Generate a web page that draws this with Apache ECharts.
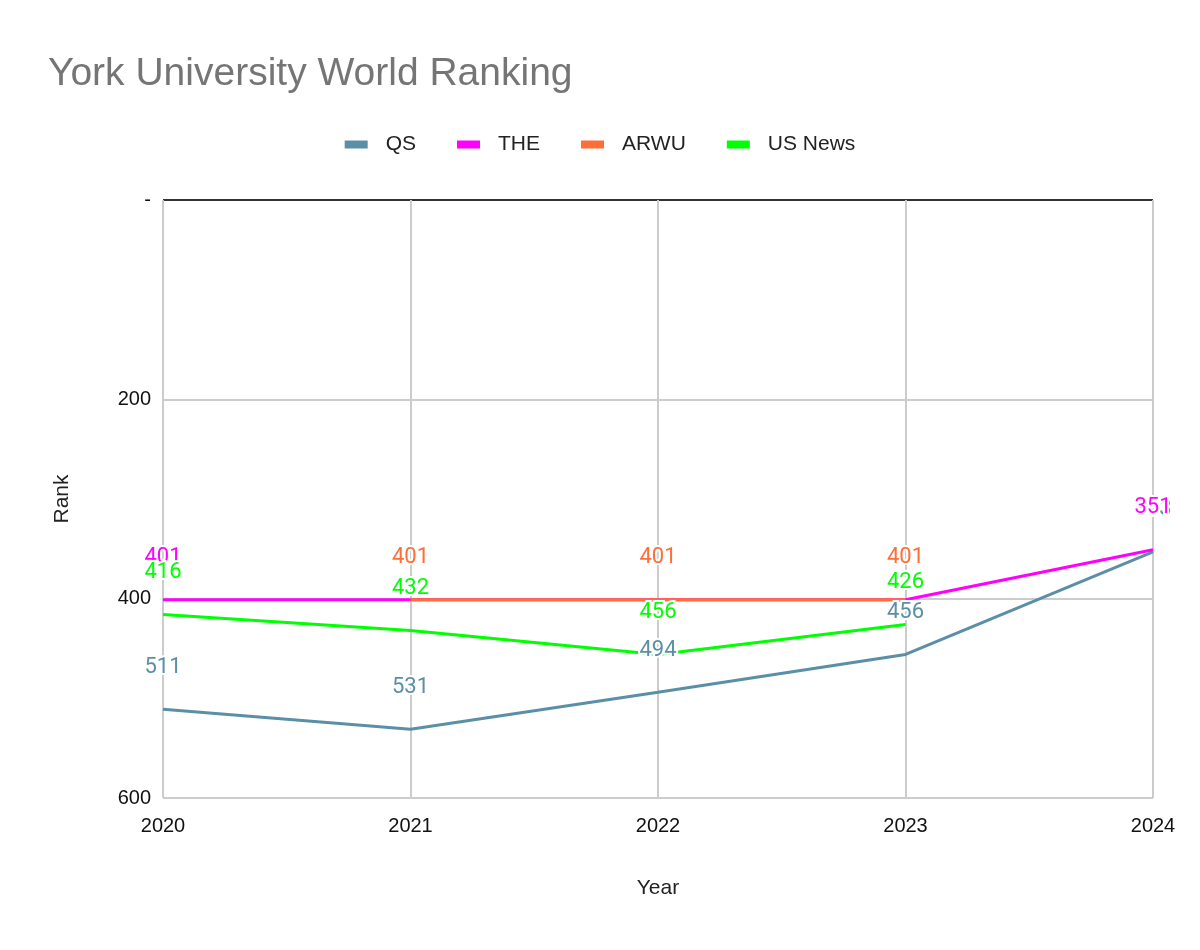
<!DOCTYPE html>
<html><head><meta charset="utf-8">
<script src="https://cdn.jsdelivr.net/npm/echarts@6/dist/echarts.min.js"></script>
<style>html,body{margin:0;padding:0;background:#fff}#c{width:1200px;height:950px}</style>
</head><body><div id="c"></div>
<script>
const years = ['2020','2021','2022','2023','2024'];
const qs = [511, 531, 494, 456, 353];
const the = [401, 401, 401, 401, 351];
const arwu = [null, 401, 401, 401, null];
const usNews = [416, 432, 456, 426, null];
const yTicks = [0, 200, 400, 600];

const chart = echarts.init(document.getElementById('c'));
function mk(name, data, color) {
  return {
    name, type: 'line', data, symbol: 'circle', symbolSize: 0, showSymbol: true, connectNulls: false,
    lineStyle: {width: 3, color}, itemStyle: {color},
    label: {show: true, position: 'top', distance: 31, color, fontFamily: 'Roboto', fontSize: 22,
      textBorderColor: '#fff', textBorderWidth: 4},
    emphasis: {disabled: true}
  };
}
chart.setOption({
  animation: false,
  title: {text: 'York University World Ranking', left: 43, top: 50,
    textStyle: {fontFamily: 'Liberation Sans', fontSize: 39, fontWeight: 'normal', color: '#757575'}},
  legend: {top: 129, left: 'center', itemWidth: 23, itemHeight: 8, itemGap: 41,
    icon: 'rect', textStyle: {fontFamily: 'Liberation Sans', fontSize: 21, color: '#222', padding: [0, 0, 0, 13]}},
  grid: {left: 163, right: 47, top: 200, bottom: 152},
  xAxis: {type: 'category', data: years, boundaryGap: false,
    name: 'Year', nameLocation: 'middle', nameGap: 80,
    nameTextStyle: {fontFamily: 'Liberation Sans', fontSize: 21, color: '#222'},
    axisLine: {show: false}, axisTick: {show: false},
    axisLabel: {fontFamily: 'Liberation Sans', fontSize: 20, color: '#111', margin: 18},
    splitLine: {show: true, lineStyle: {color: '#ccc', width: 2}}},
  yAxis: {type: 'value', inverse: true, min: 0, max: 600, interval: 200,
    name: 'Rank', nameLocation: 'middle', nameGap: 90, nameRotate: 90,
    nameTextStyle: {fontFamily: 'Liberation Sans', fontSize: 21, color: '#222'},
    axisLine: {show: false}, axisTick: {show: false},
    axisLabel: {fontFamily: 'Liberation Sans', fontSize: 20, color: '#111', margin: 12,
      formatter: v => v === 0 ? '-' : String(v)},
    splitLine: {lineStyle: {color: ['#333', '#ccc', '#ccc', '#ccc'], width: 2}}},
  series: [
    mk('QS', qs, '#5b8fa8'),
    mk('THE', the, '#ff00ff'),
    mk('ARWU', arwu, '#ff6d38'),
    mk('US News', usNews, '#00ff00')
  ]
});
</script></body></html>
